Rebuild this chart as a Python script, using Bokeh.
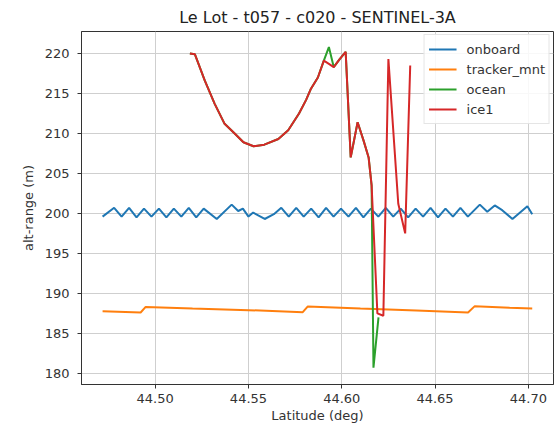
from bokeh.plotting import figure
from bokeh.models import Range1d, FixedTicker, PrintfTickFormatter, Legend, LegendItem
from bokeh.embed import file_html
from bokeh.resources import INLINE

# Along-track latitude (deg) and altitude minus range (m) for each retracker
onboard_lat = [44.4718, 44.4780, 44.4820, 44.4860, 44.4900, 44.4940, 44.4980, 44.5020,
               44.5060, 44.5100, 44.5140, 44.5180, 44.5220, 44.5260, 44.5330, 44.5410,
               44.5445, 44.5470, 44.5500, 44.5525, 44.5587, 44.5636, 44.5676, 44.5716,
               44.5756, 44.5796, 44.5836, 44.5876, 44.5916, 44.5956, 44.5996, 44.6036,
               44.6076, 44.6116, 44.6156, 44.6196, 44.6236, 44.6276, 44.6316, 44.6356,
               44.6396, 44.6436, 44.6476, 44.6516, 44.6556, 44.6596, 44.6636, 44.6676,
               44.6740, 44.6780, 44.6820, 44.6860, 44.6915, 44.6995, 44.7021]
onboard_alt = [199.6, 200.7, 199.6, 200.7, 199.5, 200.6, 199.6, 200.6,
               199.5, 200.6, 199.6, 200.7, 199.5, 200.6, 199.3, 201.1,
               200.3, 200.6, 199.6, 200.1, 199.3, 199.9, 200.7, 199.6,
               200.7, 199.6, 200.6, 199.5, 200.7, 199.6, 200.6, 199.6,
               200.7, 199.5, 200.6, 199.6, 200.7, 199.6, 200.6, 199.5,
               200.6, 199.6, 200.7, 199.5, 200.6, 199.6, 200.7, 199.6,
               201.1, 200.2, 201.0, 200.4, 199.3, 200.9, 199.9]

tracker_lat = [44.4718, 44.4922, 44.4949, 44.5200, 44.5500, 44.5791, 44.5817,
               44.6100, 44.6400, 44.6677, 44.6713, 44.6900, 44.7021]
tracker_alt = [187.75, 187.6, 188.3, 188.1, 187.9, 187.65, 188.35,
               188.1, 187.85, 187.6, 188.4, 188.2, 188.1]

ocean_lat = [44.5186, 44.5213, 44.5266, 44.5319, 44.5372, 44.5426, 44.5473, 44.5527,
             44.5585, 44.5660, 44.5713, 44.5771, 44.5809, 44.5835, 44.5872, 44.5904,
             44.5931, 44.5957, 44.5989, 44.6021, 44.6048, 44.6085, 44.6117, 44.6144,
             44.6160, 44.6170, 44.6197]
ocean_alt = [220.0, 219.9, 216.6, 213.7, 211.2, 210.0, 208.9, 208.4,
             208.6, 209.3, 210.4, 212.5, 214.2, 215.6, 217.0, 219.1,
             220.8, 218.3, 219.3, 220.2, 207.0, 211.4, 209.1, 207.0,
             203.5, 180.7, 187.0]

ice1_lat = [44.5186, 44.5213, 44.5266, 44.5319, 44.5372, 44.5426, 44.5473, 44.5527,
            44.5585, 44.5660, 44.5713, 44.5771, 44.5809, 44.5835, 44.5872, 44.5904,
            44.5931, 44.5957, 44.5989, 44.6021, 44.6048, 44.6085, 44.6117, 44.6144,
            44.6160, 44.6191, 44.6223, 44.6250, 44.6303, 44.6340, 44.6367]
ice1_alt = [220.0, 219.9, 216.6, 213.7, 211.2, 210.0, 208.9, 208.4,
            208.6, 209.3, 210.4, 212.5, 214.2, 215.6, 217.0, 219.1,
            218.7, 218.3, 219.3, 220.2, 207.0, 211.4, 209.1, 207.0,
            203.5, 187.5, 187.2, 219.3, 201.2, 197.5, 218.5]

x_ticks = [44.50, 44.55, 44.60, 44.65, 44.70]
y_ticks = [180, 185, 190, 195, 200, 205, 210, 215, 220]

FONT = "DejaVu Sans"

p = figure(width=555, height=427, output_backend="svg", toolbar_location=None,
           x_range=Range1d(44.4605, 44.7135), y_range=Range1d(178.6, 222.75),
           min_border_left=81, min_border_right=2, min_border_top=31, min_border_bottom=43,
           title="Le Lot - t057 - c020 - SENTINEL-3A")

p.title.align = "center"
p.title.text_font = FONT
p.title.text_font_size = "16px"
p.title.text_font_style = "normal"
p.title.text_color = "#222222"

p.background_fill_color = "white"
p.border_fill_color = "white"
p.outline_line_color = "#333333"
p.outline_line_width = 1

for ax in (p.xaxis[0], p.yaxis[0]):
    ax.axis_label_text_font = FONT
    ax.axis_label_text_font_size = "13px"
    ax.axis_label_text_font_style = "normal"
    ax.axis_label_text_color = "#333333"
    ax.major_label_text_font = FONT
    ax.major_label_text_font_size = "13px"
    ax.major_label_text_color = "#333333"
    ax.major_tick_out = 4
    ax.major_tick_in = 0
    ax.minor_tick_out = 0
    ax.minor_tick_in = 0
    ax.axis_line_color = "#333333"
    ax.major_tick_line_color = "#333333"

p.xaxis.ticker = FixedTicker(ticks=x_ticks)
p.xaxis.formatter = PrintfTickFormatter(format="%.2f")
p.xaxis.axis_label = "Latitude (deg)"
p.xaxis.axis_label_standoff = 2
p.xaxis.major_label_standoff = 5
p.yaxis.ticker = FixedTicker(ticks=y_ticks)
p.yaxis.formatter = PrintfTickFormatter(format="%d")
p.yaxis.axis_label = "alt-range (m)"
p.yaxis.axis_label_standoff = 6
p.yaxis.major_label_standoff = 8

p.grid.grid_line_color = "#cfcfcf"
p.grid.grid_line_width = 1

r_onboard = p.line(onboard_lat, onboard_alt, line_color="#1f77b4", line_width=2)
r_tracker = p.line(tracker_lat, tracker_alt, line_color="#ff7f0e", line_width=2)
r_ocean = p.line(ocean_lat, ocean_alt, line_color="#2ca02c", line_width=2)
r_ice1 = p.line(ice1_lat, ice1_alt, line_color="#d62728", line_width=2)

legend = Legend(items=[
    LegendItem(label="onboard", renderers=[r_onboard]),
    LegendItem(label="tracker_mnt", renderers=[r_tracker]),
    LegendItem(label="ocean", renderers=[r_ocean]),
    LegendItem(label="ice1", renderers=[r_ice1]),
], location="top_right")
legend.label_text_font = FONT
legend.label_text_font_size = "13px"
legend.label_text_color = "#333333"
legend.glyph_width = 28
legend.glyph_height = 20
legend.label_height = 20
legend.spacing = 0
legend.padding = 4
legend.margin = 3
legend.label_standoff = 10
legend.border_line_color = "#cccccc"
legend.background_fill_alpha = 0.85
p.add_layout(legend)

open("out.html", "w").write(file_html(p, INLINE))
